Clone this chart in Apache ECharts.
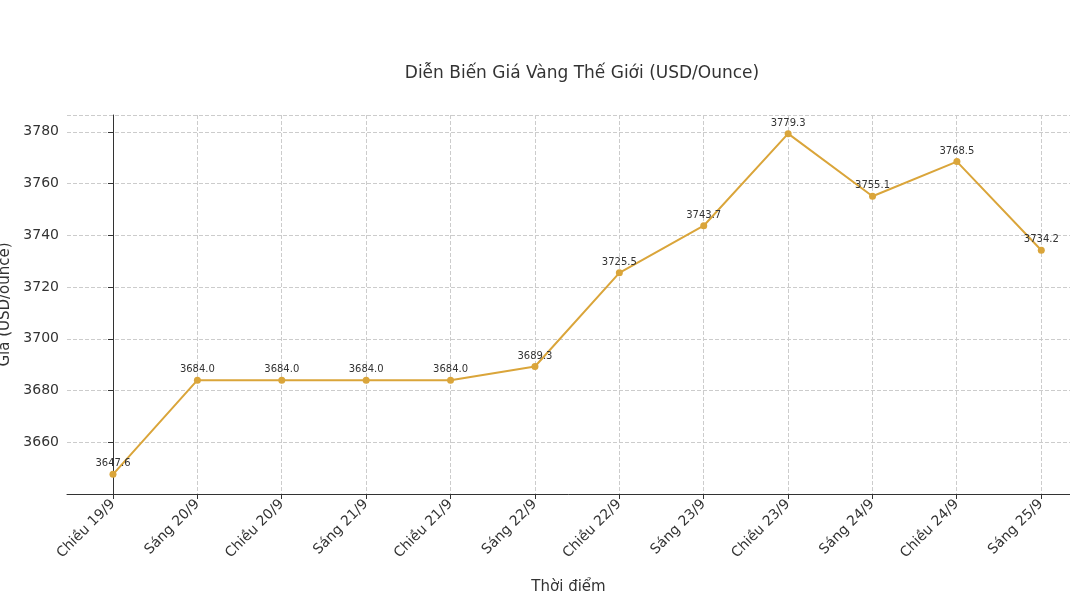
<!DOCTYPE html>
<html><head><meta charset="utf-8">
<script src="https://cdn.jsdelivr.net/npm/echarts@6/dist/echarts.min.js"></script>
<style>body{margin:0}#c{width:1070px;height:604px}</style></head>
<body><div id="c"></div>
<script>
const categories=["Chiều 19/9","Sáng 20/9","Chiều 20/9","Sáng 21/9","Chiều 21/9","Sáng 22/9","Chiều 22/9","Sáng 23/9","Chiều 23/9","Sáng 24/9","Chiều 24/9","Sáng 25/9"];
const prices=[3647.6,3684.0,3684.0,3684.0,3684.0,3689.3,3725.5,3743.7,3779.3,3755.1,3768.5,3734.2];
const yTicks=[3660,3680,3700,3720,3740,3760,3780];
const chart=echarts.init(document.getElementById('c'));
const font='DejaVu Sans';
const dash={show:true,lineStyle:{color:'#ccc',type:'dashed'}};
chart.setOption({
  textStyle:{fontFamily:font},
  title:{text:'Diễn Biến Giá Vàng Thế Giới (USD/Ounce)',left:577,top:60,textAlign:'center',textStyle:{fontFamily:font,fontWeight:'normal',fontSize:17,color:'#333'}},
  grid:[{left:67,right:0,top:115,bottom:110,outerBoundsMode:'none'},
        {left:113,right:29,top:115,bottom:110,outerBoundsMode:'none'}],
  xAxis:[{type:'value',gridIndex:0,min:-0.545,max:11.34,
    axisLine:{onZero:false,lineStyle:{color:'#333'}},axisTick:{show:false},axisLabel:{show:false},splitLine:{show:false},
    name:'Thời điểm',nameLocation:'middle',nameGap:86,nameTextStyle:{fontSize:15,color:'#333'}},
   {type:'category',gridIndex:1,data:categories,boundaryGap:false,
    axisLine:{show:false},axisTick:{show:true,alignWithLabel:true,lineStyle:{color:'#333'}},
    splitLine:dash,axisLabel:{interval:0,rotate:45,fontSize:14,color:'#333',margin:8}}],
  yAxis:[{type:'value',gridIndex:0,min:3640,max:3786.5,interval:20,
    axisLine:{show:true,lineStyle:{color:'#333'}},axisTick:{show:true,lineStyle:{color:'#333'}},
    splitLine:dash,
    axisLabel:{showMinLabel:false,showMaxLabel:false,fontSize:14,color:'#333',
      formatter:v=>yTicks.includes(v)?String(v):''},
    name:'Giá (USD/ounce)',nameLocation:'middle',nameGap:52,nameTextStyle:{fontSize:15,color:'#333'}},
   {type:'value',gridIndex:1,min:3640,max:3786.5,show:false}],
  series:[{type:'line',xAxisIndex:0,yAxisIndex:0,data:prices.map((p,i)=>[i,p]),symbol:'circle',symbolSize:7,
    itemStyle:{color:'#DAA53A'},lineStyle:{color:'#DAA53A',width:2},
    label:{show:true,position:'top',distance:2,fontSize:10,color:'#333',formatter:p=>p.value[1].toFixed(1)}}]
});
</script></body></html>
